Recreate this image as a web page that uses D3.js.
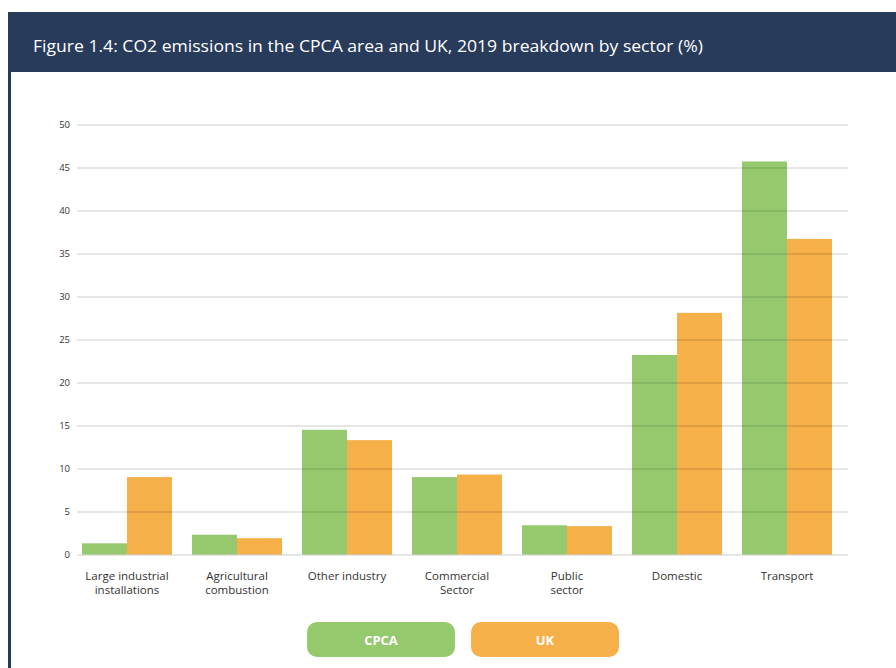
<!DOCTYPE html>
<html>
<head>
<meta charset="utf-8">
<script src="https://cdn.jsdelivr.net/npm/d3@7"></script>
<style>
  body { margin: 0; background: #fff; }
  svg { display: block; font-family: "Open Sans", "Noto Sans", sans-serif; }
</style>
</head>
<body>
<div id="chart"></div>
<script>
// data
const sectors = [
  ["Large industrial", "installations"],
  ["Agricultural", "combustion"],
  ["Other industry"],
  ["Commercial", "Sector"],
  ["Public", "sector"],
  ["Domestic"],
  ["Transport"]
];
const seriesNames = ["CPCA", "UK"];
const cpca = [1.3, 2.3, 14.5, 9.0, 3.4, 23.2, 45.7];
const uk = [9.0, 1.9, 13.3, 9.3, 3.3, 28.1, 36.7];
const yTicks = [0, 5, 10, 15, 20, 25, 30, 35, 40, 45, 50];

const width = 896, height = 668;
const colors = { CPCA: "#96c96e", UK: "#f5b04a" };

const svg = d3.select("#chart").append("svg")
  .attr("width", width)
  .attr("height", height);

// frame: header band + left border
svg.append("rect").attr("x", 8).attr("y", 12).attr("width", width - 8).attr("height", 60).attr("fill", "#293b5b");
svg.append("rect").attr("x", 8).attr("y", 12).attr("width", 3).attr("height", height - 12).attr("fill", "#293b5b");

svg.append("text")
  .attr("x", 33).attr("y", 52)
  .attr("fill", "#fff")
  .attr("font-size", 16)
  .attr("textLength", 670)
  .attr("lengthAdjust", "spacingAndGlyphs")
  .text("Figure 1.4: CO2 emissions in the CPCA area and UK, 2019 breakdown by sector (%)");

const names = sectors.map(d => d.join(" "));
const data = names.map((n, i) => ({ name: n, lines: sectors[i], CPCA: cpca[i], UK: uk[i] }));

const x = d3.scaleBand().domain(names).range([82, 832]).paddingInner(20 / 110).paddingOuter(0);
const xs = d3.scaleBand().domain(seriesNames).range([0, x.bandwidth()]);
const y = d3.scaleLinear().domain([0, 50]).range([554.5, 124.5]);

// bars
const g = svg.append("g");
g.selectAll("g.grp").data(data).join("g")
  .attr("class", "grp")
  .attr("transform", d => `translate(${x(d.name)},0)`)
  .selectAll("rect")
  .data(d => seriesNames.map(s => ({ s, v: d[s] })))
  .join("rect")
  .attr("x", d => xs(d.s))
  .attr("y", d => y(d.v))
  .attr("width", xs.bandwidth())
  .attr("height", d => y(0) - y(d.v))
  .attr("fill", d => colors[d.s]);

// gridlines on top, semi-transparent so they show through bars
const yAxis = d3.axisLeft(y).tickValues(yTicks).tickSize(-(848 - 77)).tickPadding(10);
const ya = svg.append("g").attr("transform", "translate(77,0)").call(yAxis);
ya.select(".domain").remove();
ya.selectAll(".tick line").attr("stroke", "#000").attr("stroke-opacity", 0.2).attr("stroke-width", 1);
ya.selectAll(".tick text").attr("font-size", 9.5).attr("fill", "#333").attr("x", -7)
  .attr("font-family", "'Open Sans', sans-serif");

// category labels, one text per line
const xl = svg.append("g");
data.forEach(d => {
  d.lines.forEach((ln, j) => {
    xl.append("text")
      .attr("x", x(d.name) + x.bandwidth() / 2)
      .attr("y", 580 + j * 14)
      .attr("text-anchor", "middle")
      .attr("font-size", 11.5)
      .attr("fill", "#333")
      .text(ln);
  });
});

// legend
const leg = svg.append("g").selectAll("g").data(seriesNames).join("g")
  .attr("transform", (d, i) => `translate(${307 + i * 164},622)`);
leg.append("rect").attr("width", 148).attr("height", 35).attr("rx", 10)
  .attr("fill", d => colors[d]);
leg.append("text").attr("x", 74).attr("y", 22.5).attr("text-anchor", "middle")
  .attr("fill", "#fff").attr("font-weight", "bold").attr("font-size", 13)
  .text(d => d);
</script>
</body>
</html>
